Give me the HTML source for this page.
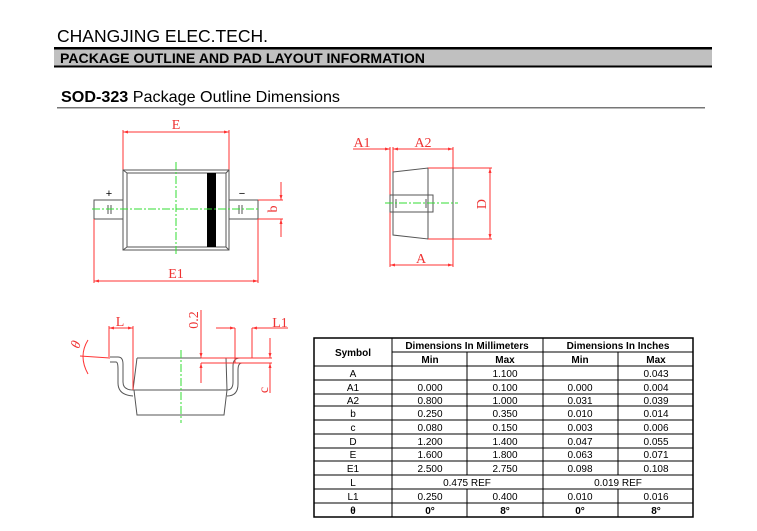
<!DOCTYPE html>
<html><head><meta charset="utf-8"><style>
body{margin:0;background:#fff;}
svg{display:block;font-family:"Liberation Sans",sans-serif;}
.r{stroke:#f33;stroke-width:1;fill:none}
.g{stroke:#555;stroke-width:1;fill:none}
.gr{stroke:#3d3;stroke-width:1;stroke-dasharray:8,2,2,2;fill:none}
.rt{fill:#e33;font-family:"Liberation Serif",serif;font-size:14px}
.t{font-size:10px;text-anchor:middle}
.tb{font-size:10px;text-anchor:middle;font-weight:bold}
</style></head><body>
<svg width="757" height="531" viewBox="0 0 757 531">
<defs>
<marker id="a" viewBox="0 0 10 10" refX="10" refY="5" markerWidth="7" markerHeight="5" orient="auto-start-reverse"><path d="M0,2L10,5L0,8z" fill="#f33"/></marker>
</defs>
<text x="57" y="42" font-size="17.3" textLength="211" lengthAdjust="spacingAndGlyphs">CHANGJING ELEC.TECH.</text>
<rect x="54" y="47" width="658" height="2.5" fill="#000"/>
<rect x="54" y="49.5" width="658" height="16" fill="#c0c0c0"/>
<rect x="54" y="65.5" width="658" height="2" fill="#000"/>
<text x="60" y="63" font-size="13.8" font-weight="bold" textLength="365" lengthAdjust="spacingAndGlyphs">PACKAGE OUTLINE AND PAD LAYOUT INFORMATION</text>
<text x="61" y="102" font-size="16" textLength="279" lengthAdjust="spacingAndGlyphs"><tspan font-weight="bold">SOD-323</tspan> Package Outline Dimensions</text>
<rect x="57" y="107" width="648" height="1.5" fill="#777"/>

<!-- drawing 1 -->
<line class="r" x1="123" y1="132" x2="229" y2="132" marker-start="url(#a)" marker-end="url(#a)"/>
<line class="r" x1="123" y1="130" x2="123" y2="170"/><line class="r" x1="229" y1="130" x2="229" y2="170"/>
<text class="rt" x="176" y="129" text-anchor="middle">E</text>
<rect class="g" x="123" y="170" width="106" height="80" stroke="#888"/>
<rect class="g" x="127" y="173" width="99" height="74" stroke="#888"/>
<path class="g" stroke="#888" d="M123,170L127,173M229,170L226,173M123,250L127,247M229,250L226,247"/>
<rect x="207" y="173" width="9" height="74" fill="#000"/>
<rect class="g" x="94" y="200" width="29" height="19" stroke="#888"/>
<rect class="g" x="229" y="200" width="29" height="19" stroke="#888"/>
<path class="g" d="M108,205v9M111,205v9M239,205v9M242,205v9"/>
<text x="109" y="197" font-size="11" text-anchor="middle">+</text>
<text x="242" y="197" font-size="11" text-anchor="middle">−</text>
<line class="r" x1="258" y1="200" x2="283" y2="200"/><line class="r" x1="258" y1="219" x2="283" y2="219"/>
<line class="r" x1="281" y1="182" x2="281" y2="200" marker-end="url(#a)"/>
<line class="r" x1="281" y1="237" x2="281" y2="219" marker-end="url(#a)"/>
<text class="rt" transform="translate(277,209) rotate(-90)" text-anchor="middle">b</text>
<line class="r" x1="94" y1="219" x2="94" y2="283"/><line class="r" x1="258" y1="219" x2="258" y2="283"/>
<line class="r" x1="94" y1="281" x2="258" y2="281" marker-start="url(#a)" marker-end="url(#a)"/>
<text class="rt" x="176" y="278" text-anchor="middle">E1</text>
<line class="gr" x1="92" y1="209" x2="260" y2="209"/>
<line class="gr" x1="176" y1="162" x2="176" y2="255"/>

<!-- drawing 2 -->
<line class="r" x1="353" y1="149" x2="390" y2="149" marker-end="url(#a)"/>
<line class="r" x1="393" y1="149" x2="453" y2="149" marker-start="url(#a)" marker-end="url(#a)"/>
<text class="rt" x="362" y="147" text-anchor="middle">A1</text>
<text class="rt" x="423" y="147" text-anchor="middle">A2</text>
<line class="r" x1="390" y1="147" x2="390" y2="267"/>
<line class="r" x1="393" y1="147" x2="393" y2="172"/>
<line class="r" x1="453" y1="147" x2="453" y2="267"/>
<path class="g" d="M393,172L428,168L428,239L393,235Z"/>
<rect class="g" x="428" y="168" width="25" height="71"/>
<line class="r" x1="428" y1="168" x2="492" y2="168"/><line class="r" x1="428" y1="239" x2="492" y2="239"/>
<line class="r" x1="490" y1="168" x2="490" y2="239" marker-start="url(#a)" marker-end="url(#a)"/>
<text class="rt" transform="translate(486,204) rotate(-90)" text-anchor="middle">D</text>
<rect class="g" x="390" y="195" width="43" height="17" fill="#fff"/>
<path class="g" d="M396,199v9M426,199v9"/>
<line class="gr" x1="385" y1="203" x2="458" y2="203"/>
<line class="r" x1="390" y1="265" x2="453" y2="265" marker-start="url(#a)" marker-end="url(#a)"/>
<text class="rt" x="421" y="263" text-anchor="middle">A</text>

<!-- drawing 3 -->
<path class="g" stroke="#777" d="M137,358H226M133,390H227M137,358L133,390M226,358L227,390M134,390L137,415H224L227,390"/>
<path class="g" stroke="#777" d="M110,357H118Q123,357 123,364V382Q123,390 133,390M110,362H116Q118,362 118,369V383Q118,395 133,396"/>
<path class="g" stroke="#777" d="M270,358H240Q233,358 233,366V382Q233,390 227,390M270,363H242Q238,363 238,370V384Q238,396 227,396"/>
<line class="r" x1="109" y1="326" x2="109" y2="357"/><line class="r" x1="133" y1="326" x2="133" y2="390"/>
<line class="r" x1="109" y1="328" x2="133" y2="328" marker-start="url(#a)" marker-end="url(#a)"/>
<text class="rt" x="120" y="326" text-anchor="middle">L</text>
<line class="r" x1="201" y1="310" x2="201" y2="358" marker-end="url(#a)"/>
<line class="r" x1="201" y1="383" x2="201" y2="363" marker-end="url(#a)"/>
<text class="rt" transform="translate(198,320) rotate(-90)" text-anchor="middle">0.2</text>
<line class="r" x1="201" y1="358" x2="272" y2="358"/><line class="r" x1="201" y1="363" x2="272" y2="363"/>
<line class="r" x1="235" y1="328" x2="235" y2="363"/><line class="r" x1="252" y1="328" x2="252" y2="358"/>
<line class="r" x1="216" y1="328" x2="235" y2="328" marker-end="url(#a)"/>
<line class="r" x1="288" y1="328" x2="252" y2="328" marker-end="url(#a)"/>
<text class="rt" x="280" y="327" text-anchor="middle">L1</text>
<line class="r" x1="270" y1="338" x2="270" y2="358" marker-end="url(#a)"/>
<line class="r" x1="270" y1="393" x2="270" y2="363" marker-end="url(#a)"/>
<text class="rt" transform="translate(268,390) rotate(-90)" text-anchor="middle">c</text>
<line class="r" x1="80" y1="356" x2="110" y2="358"/>
<path class="r" d="M88,340Q78,356 88,374"/>
<text class="rt" transform="translate(80,346) rotate(-70)" text-anchor="middle" font-style="italic">θ</text>
<line class="gr" x1="181" y1="350" x2="181" y2="423"/>

<!-- table -->
<g stroke="#000" fill="none">
<rect x="314" y="338" width="379" height="179" stroke-width="1.5"/>
<path stroke-width="1" d="M392,338V517M543,338V517M392,352H693M314,366H693M314,380H693M314,394H693M314,406H693M314,420H693M314,434H693M314,448H693M314,461H693M314,475H693M314,489H693M314,503H693M467,352V475M467,489V517M618,352V475M618,489V517"/>
</g>
<text class="tb" x="353" y="356">Symbol</text>
<text class="tb" x="467" y="349">Dimensions In Millimeters</text>
<text class="tb" x="618" y="349">Dimensions In Inches</text>
<text class="tb" x="430" y="363">Min</text><text class="tb" x="505" y="363">Max</text>
<text class="tb" x="580" y="363">Min</text><text class="tb" x="656" y="363">Max</text>
<g class="t">
<text class="t" x="353" y="377">A</text><text class="t" x="505" y="377">1.100</text><text class="t" x="656" y="377">0.043</text>
<text class="t" x="353" y="391">A1</text><text class="t" x="430" y="391">0.000</text><text class="t" x="505" y="391">0.100</text><text class="t" x="580" y="391">0.000</text><text class="t" x="656" y="391">0.004</text>
<text class="t" x="353" y="404">A2</text><text class="t" x="430" y="404">0.800</text><text class="t" x="505" y="404">1.000</text><text class="t" x="580" y="404">0.031</text><text class="t" x="656" y="404">0.039</text>
<text class="t" x="353" y="417">b</text><text class="t" x="430" y="417">0.250</text><text class="t" x="505" y="417">0.350</text><text class="t" x="580" y="417">0.010</text><text class="t" x="656" y="417">0.014</text>
<text class="t" x="353" y="431">c</text><text class="t" x="430" y="431">0.080</text><text class="t" x="505" y="431">0.150</text><text class="t" x="580" y="431">0.003</text><text class="t" x="656" y="431">0.006</text>
<text class="t" x="353" y="445">D</text><text class="t" x="430" y="445">1.200</text><text class="t" x="505" y="445">1.400</text><text class="t" x="580" y="445">0.047</text><text class="t" x="656" y="445">0.055</text>
<text class="t" x="353" y="458">E</text><text class="t" x="430" y="458">1.600</text><text class="t" x="505" y="458">1.800</text><text class="t" x="580" y="458">0.063</text><text class="t" x="656" y="458">0.071</text>
<text class="t" x="353" y="472">E1</text><text class="t" x="430" y="472">2.500</text><text class="t" x="505" y="472">2.750</text><text class="t" x="580" y="472">0.098</text><text class="t" x="656" y="472">0.108</text>
<text class="t" x="353" y="486">L</text><text class="t" x="467" y="486">0.475 REF</text><text class="t" x="618" y="486">0.019 REF</text>
<text class="t" x="353" y="500">L1</text><text class="t" x="430" y="500">0.250</text><text class="t" x="505" y="500">0.400</text><text class="t" x="580" y="500">0.010</text><text class="t" x="656" y="500">0.016</text>
<text class="tb" x="353" y="514">θ</text><text class="tb" x="430" y="514">0°</text><text class="tb" x="505" y="514">8°</text><text class="tb" x="580" y="514">0°</text><text class="tb" x="656" y="514">8°</text>
</g>
</svg>
</body></html>
